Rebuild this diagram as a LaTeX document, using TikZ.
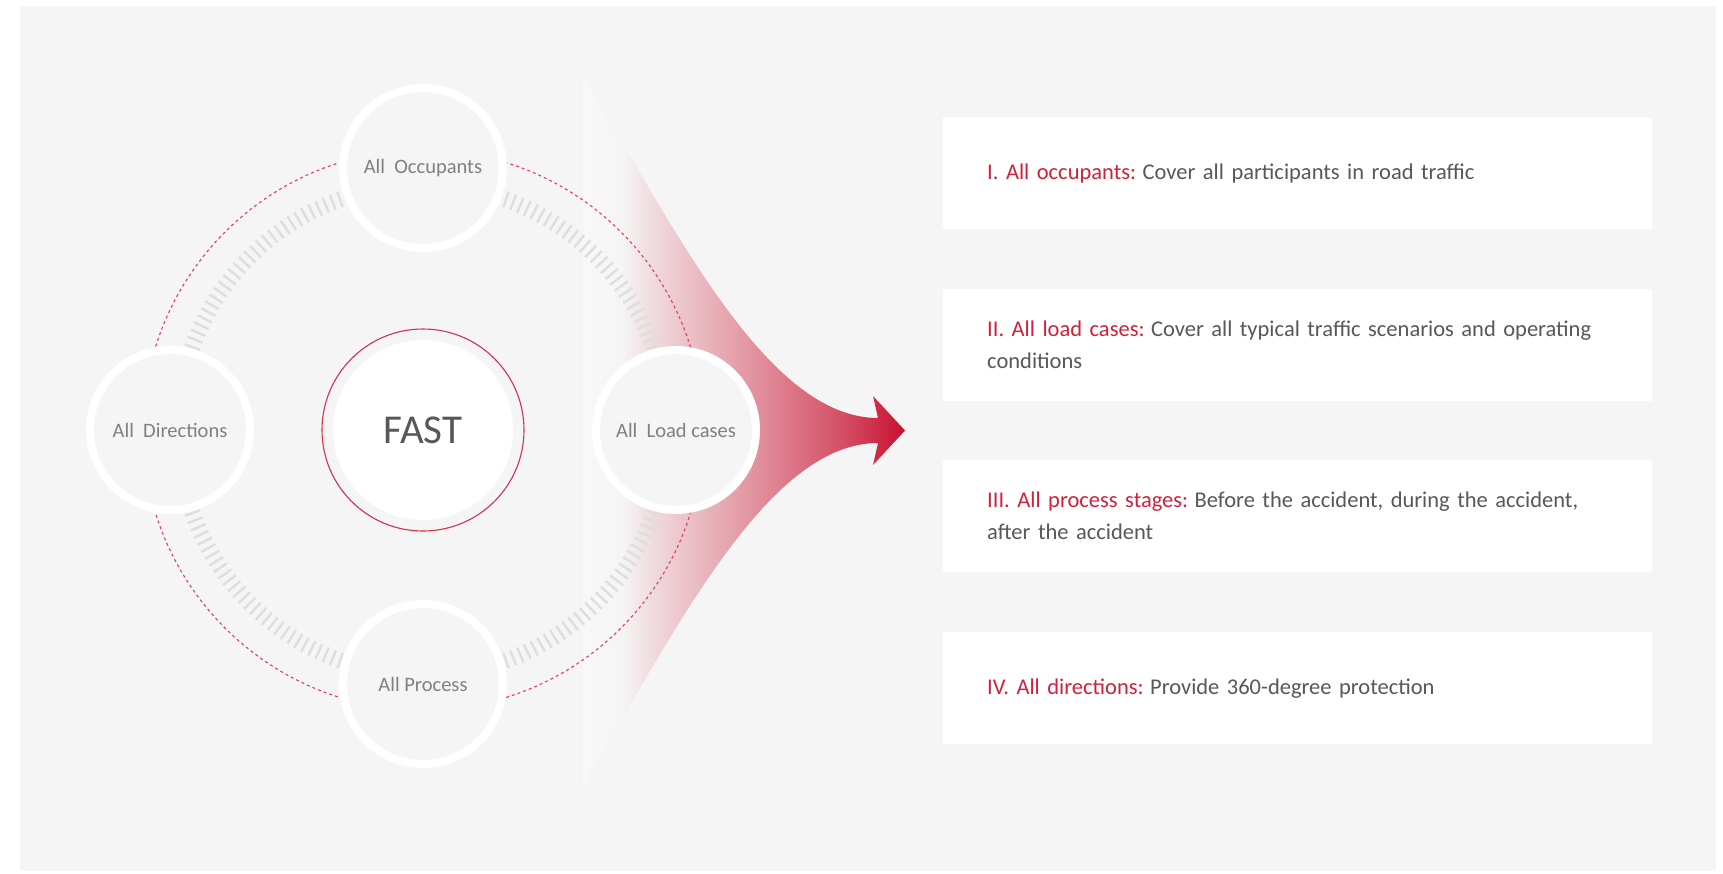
\documentclass[tikz,border=0pt]{standalone}
\usepackage{fontspec}
\setmainfont{Carlito}
\usetikzlibrary{calc}
\definecolor{bgc}{HTML}{F5F5F5}
\definecolor{redc}{HTML}{C8102E}
\definecolor{txtred}{HTML}{D0213B}
\definecolor{txtgrey}{HTML}{585858}
\definecolor{lblgrey}{HTML}{808080}
\definecolor{tickc}{HTML}{DEDEDE}
\definecolor{dashc}{HTML}{E0405A}
\pgfdeclarehorizontalshading{arrowshade}{100bp}{color(0bp)=(white!30!bgc); color(25bp)=(white!30!bgc); color(31bp)=(bgc); color(36bp)=(redc!12!bgc); color(50bp)=(redc!40!bgc); color(65bp)=(redc!72!bgc); color(75bp)=(redc); color(100bp)=(redc)}
\begin{document}
\begin{tikzpicture}[x=1pt,y=-1pt,
  orbitnode/.style={circle, draw=white, line width=8pt, fill=bgc, minimum size=160pt, inner sep=0pt,
     text=lblgrey, font=\fontsize{20.5}{22}\selectfont},
  hubnode/.style={circle, fill=white, minimum size=180pt, inner sep=0pt, text=txtgrey,
     font=\fontsize{41}{44}\selectfont},
  infobox/.style={rectangle, fill=white, anchor=north west, minimum width=709pt, minimum height=112pt,
     text width=621pt, inner xsep=44pt, inner ysep=0pt, align=left, text=txtgrey,
     font=\fontsize{22.5}{32}\selectfont},
  tickstyle/.style={tickc, line width=2.4pt},
  dashring/.style={dashc, line width=1.1pt, dash pattern=on 3pt off 3pt},
  hubring/.style={draw=redc!85!white, line width=1.1pt}
]
\useasboundingbox (0,0) rectangle (1723,873);
\fill[white] (0,0) rectangle (1723,873);
\fill[bgc] (20,6) rectangle (1716,871);

% gradient arrow
\coordinate (tip) at (905,430.5);
\shade[shading=arrowshade]
  (583,75) .. controls (680,240) and (770,418) .. (878,418)
  -- (873,396) -- (tip) -- (873,465) -- (878,443)
  .. controls (770,443) and (680,621) .. (583,786) -- cycle;

\coordinate (c) at (423,430);
% hatched ring
\foreach \a in {0,1.8,...,359}
  \draw[tickstyle] ($(c)+(\a:237)$) -- ($(c)+(\a:253)$);
% dashed ring
\draw[dashring] (c) circle[radius=280pt];

% orbit nodes
\node[orbitnode] (occ) at (423,168) {All\ \ Occupants};
\node[orbitnode] (dir) at (170,430) {All\ \ Directions};
\node[orbitnode] (load) at (676,430) {All\ \ Load cases};
\node[orbitnode] (proc) at (423,684) {All Process};

% hub
\node[hubnode] (fast) at (c) {FAST};
\draw[hubring] (fast.center) circle[radius=101pt];

% info boxes
\node[infobox] (b1) at (943,117) {{\color{txtred}I. All occupants:}\hspace{6.5pt}Cover all participants in road traffic};
\node[infobox] (b2) at (943,289) {{\color{txtred}II. All load cases:}\hspace{6.5pt}Cover all typical traffic scenarios and operating\\conditions};
\node[infobox] (b3) at (943,460) {{\color{txtred}III. All process stages:}\hspace{6.5pt}Before the accident, during the accident,\\after the accident};
\node[infobox] (b4) at (943,632) {{\color{txtred}IV. All directions:}\hspace{6.5pt}Provide 360-degree protection};
\end{tikzpicture}
\end{document}
